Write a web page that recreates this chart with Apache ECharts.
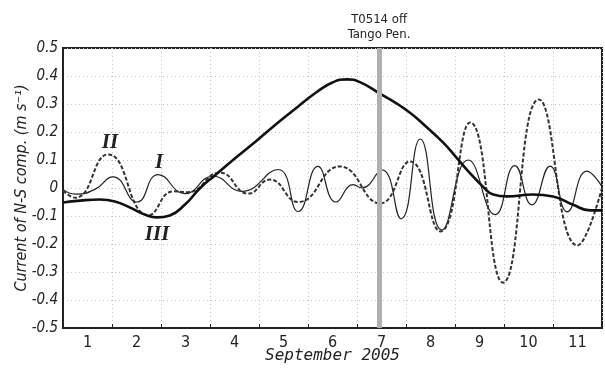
<!DOCTYPE html>
<html>
<head>
<meta charset="utf-8">
<script src="https://cdn.jsdelivr.net/npm/echarts@6/dist/echarts.min.js"></script>
<style>html,body{margin:0;padding:0;background:#fff}#c{width:605px;height:370px}</style>
</head>
<body>
<div id="c"></div>
<script>
// X categories (days of September 2005)
const dayLabels = ['1','2','3','4','5','6','7','8','9','10','11'];

// Series I (thin solid): day position, value (m/s)
const xI = [0.5,0.75,1.15,1.52,2.01,2.44,2.99,3.56,4.15,4.89,5.30,5.70,6.07,6.42,6.60,7.01,7.40,7.79,8.23,8.77,9.32,9.72,10.07,10.44,10.79,11.19,11.5];
const yI = [-0.005,-0.022,-0.005,0.04,-0.05,0.048,-0.02,0.042,-0.012,0.066,-0.084,0.077,-0.05,0.012,0.0,0.065,-0.11,0.175,-0.15,0.10,-0.095,0.08,-0.06,0.078,-0.085,0.06,0.005];

// Series II (dashed)
const xII = [0.5,0.75,1.42,2.25,2.75,3.05,3.70,4.28,4.72,5.30,6.15,6.97,7.58,8.20,8.81,9.48,10.21,11.0,11.5];
const yII = [-0.01,-0.035,0.12,-0.097,-0.012,-0.015,0.055,-0.02,0.03,-0.05,0.077,-0.055,0.095,-0.155,0.234,-0.338,0.316,-0.205,0.0];

// Series III (thick solid)
const xIII = [0.5,0.85,1.25,1.56,1.87,2.17,2.42,2.68,2.99,3.30,3.60,3.97,4.32,4.66,4.99,5.34,5.68,6.00,6.30,6.56,6.97,7.52,7.93,8.26,8.5,8.74,9.07,9.28,9.56,10.09,10.5,10.91,11.26,11.5];
const yIII = [-0.052,-0.045,-0.041,-0.048,-0.07,-0.095,-0.105,-0.098,-0.059,0.0,0.045,0.10,0.15,0.20,0.248,0.297,0.343,0.377,0.388,0.378,0.337,0.277,0.216,0.162,0.115,0.066,0.005,-0.023,-0.03,-0.023,-0.03,-0.06,-0.08,-0.08];

// Typhoon passage marker
const typhoonDay = 6.95;
const typhoonText = 'T0514 off\nTango Pen.';

// Curve labels [x, y]
const labI = [2.46, 0.09];
const labII = [1.46, 0.163];
const labIII = [2.42, -0.165];

const zip = (xs, ys) => xs.map((x, i) => [x, ys[i]]);
const condensed = 'DejaVu Sans Condensed';
const romanLabel = (coord, text) => ({
  silent: true,
  symbol: 'circle', symbolSize: 1,
  itemStyle: { color: 'rgba(0,0,0,0)' },
  label: { show: true, position: 'inside', formatter: text, fontFamily: 'Liberation Serif', fontStyle: 'italic', fontWeight: 'bold', fontSize: 21, color: '#222' },
  data: [{ coord: coord }]
});

const chart = echarts.init(document.getElementById('c'), null, { renderer: 'canvas' });
chart.setOption({
  animation: false,
  backgroundColor: '#fff',
  grid: { left: 63, right: 3, top: 48, bottom: 42, containLabel: false, outerBoundsMode: 'none',
    show: true, borderColor: '#222', borderWidth: 2, backgroundColor: 'transparent' },
  xAxis: [
    {
      type: 'category', data: dayLabels, boundaryGap: true, position: 'bottom',
      axisLine: { show: true, onZero: false, lineStyle: { color: '#222', width: 2 } },
      axisTick: { show: true, inside: true, length: 4, interval: 0, lineStyle: { color: '#222' } },
      axisLabel: { interval: 0, margin: 7, fontFamily: condensed, fontSize: 16, color: '#222' },
      splitLine: { show: true, interval: 0, lineStyle: { color: '#c4c4c4', type: [1, 3], width: 1 } },
      name: 'September 2005', nameLocation: 'middle', nameGap: 20, nameMoveOverlap: false,
      nameTextStyle: { fontFamily: 'DejaVu Sans Mono', fontStyle: 'italic', fontSize: 16, color: '#222' }
    },
    { type: 'value', min: 0.5, max: 11.5, show: false }
  ],
  yAxis: {
    type: 'value', min: -0.5, max: 0.5, interval: 0.1,
    axisLine: { show: true, onZero: false, lineStyle: { color: '#222', width: 2 } },
    axisTick: { show: false },
    axisLabel: { margin: 5, fontFamily: condensed, fontStyle: 'italic', fontSize: 15, color: '#222',
      formatter: v => Math.abs(v) < 1e-9 ? '0' : v.toFixed(1) },
    splitLine: { show: true, lineStyle: { color: '#c4c4c4', type: [1, 3], width: 1 } },
    name: 'Current of N-S comp. (m s⁻¹)', nameLocation: 'middle', nameGap: 33, nameRotate: 90, nameMoveOverlap: false,
    nameTextStyle: { fontFamily: condensed, fontStyle: 'italic', fontSize: 16, color: '#222' }
  },
  series: [
    {
      type: 'line', xAxisIndex: 1, data: [], z: 1, silent: true,
      markLine: {
        silent: true, symbol: 'none',
        lineStyle: { color: '#b0b0b0', width: 5, type: 'solid' },
        label: { show: true, position: 'end', distance: 6, formatter: typhoonText, fontFamily: condensed, fontSize: 13, lineHeight: 15, color: '#222' },
        data: [{ xAxis: typhoonDay }]
      }
    },
    {
      name: 'I', type: 'line', xAxisIndex: 1, data: zip(xI, yI), smooth: true, showSymbol: false, z: 3,
      lineStyle: { color: '#222', width: 1.2 }, markPoint: romanLabel(labI, 'I')
    },
    {
      name: 'II', type: 'line', xAxisIndex: 1, data: zip(xII, yII), smooth: true, showSymbol: false, z: 3,
      lineStyle: { color: '#333', width: 2, type: [4, 2] }, markPoint: romanLabel(labII, 'II')
    },
    {
      name: 'III', type: 'line', xAxisIndex: 1, data: zip(xIII, yIII), smooth: true, showSymbol: false, z: 4,
      lineStyle: { color: '#111', width: 2.6 }, markPoint: romanLabel(labIII, 'III')
    }
  ]
});
</script>
</body>
</html>
